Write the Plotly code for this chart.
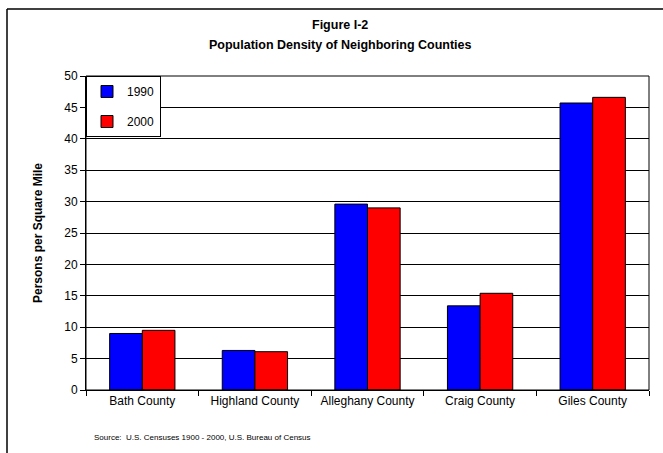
import plotly.graph_objects as go

counties = ["Bath County", "Highland County", "Alleghany County", "Craig County", "Giles County"]
density_1990 = [9.0, 6.3, 29.6, 13.4, 45.7]
density_2000 = [9.5, 6.1, 29.0, 15.4, 46.6]
y_ticks = [0, 5, 10, 15, 20, 25, 30, 35, 40, 45, 50]
title_lines = ["Figure I-2", "Population Density of Neighboring Counties"]

FONT = "Liberation Sans, Arial, sans-serif"

fig = go.Figure()
fig.add_trace(go.Bar(name="1990", x=counties, y=density_1990, legendgroup="a",
                     marker=dict(color="#0000FF", line=dict(color="#000000", width=1))))
fig.add_trace(go.Bar(name="2000", x=counties, y=density_2000, legendgroup="b",
                     marker=dict(color="#FF0000", line=dict(color="#000000", width=1))))

fig.update_layout(
    width=663, height=453,
    margin=dict(l=86, r=14, t=76, b=63),
    paper_bgcolor="white", plot_bgcolor="white",
    font=dict(family=FONT, size=12, color="#000000"),
    barmode="group", bargap=0.42, bargroupgap=0,
    showlegend=True,
    legend=dict(x=0, y=1, xanchor="left", yanchor="top",
                bgcolor="white", bordercolor="#000000", borderwidth=1,
                font=dict(size=12), tracegroupgap=11, itemwidth=30,
                traceorder="grouped"),
    xaxis=dict(showline=True, linecolor="#000000", linewidth=1, mirror=False,
               ticks="outside", tickson="boundaries", ticklen=5, tickcolor="#000000",
               tickfont=dict(size=12), showgrid=False),
    yaxis=dict(range=[0, 50], tickvals=y_ticks, showline=True, linecolor="#000000",
               linewidth=1, ticks="outside", ticklen=5, tickcolor="#000000",
               showgrid=True, gridcolor="#000000", gridwidth=1,
               tickfont=dict(size=12),
               title=dict(text="<b>Persons per Square Mile</b>", font=dict(size=12), standoff=19)),
)

# title lines
for line, ypix in zip(title_lines, [25, 45]):
    fig.add_annotation(text="<b>" + line + "</b>", xref="paper", yref="paper",
                       x=(340 - 86) / 563, y=(453 - 63 - ypix) / 314,
                       xanchor="center", yanchor="middle", showarrow=False,
                       font=dict(size=12.5))

# plot area border (top and right)
fig.add_shape(type="rect", xref="paper", yref="paper", x0=0, x1=1, y0=0, y1=1,
              line=dict(color="#000000", width=1))
# outer chart frame (left and top visible)
fig.add_shape(type="line", xref="paper", yref="paper",
              x0=-79/563, x1=-79/563, y0=-63/314, y1=(453-9-63)/314,
              line=dict(color="#000000", width=1.5))
fig.add_shape(type="line", xref="paper", yref="paper",
              x0=-79/563, x1=(663-86)/563, y0=(453-9-63)/314, y1=(453-9-63)/314,
              line=dict(color="#000000", width=1.5))

fig.add_annotation(text="Source:  U.S. Censuses 1900 - 2000, U.S. Bureau of Census",
                   xref="paper", yref="paper", x=(92-86)/563, y=-(437-390)/314,
                   xanchor="left", yanchor="middle", showarrow=False,
                   font=dict(size=8))

fig.write_html("out.html")
